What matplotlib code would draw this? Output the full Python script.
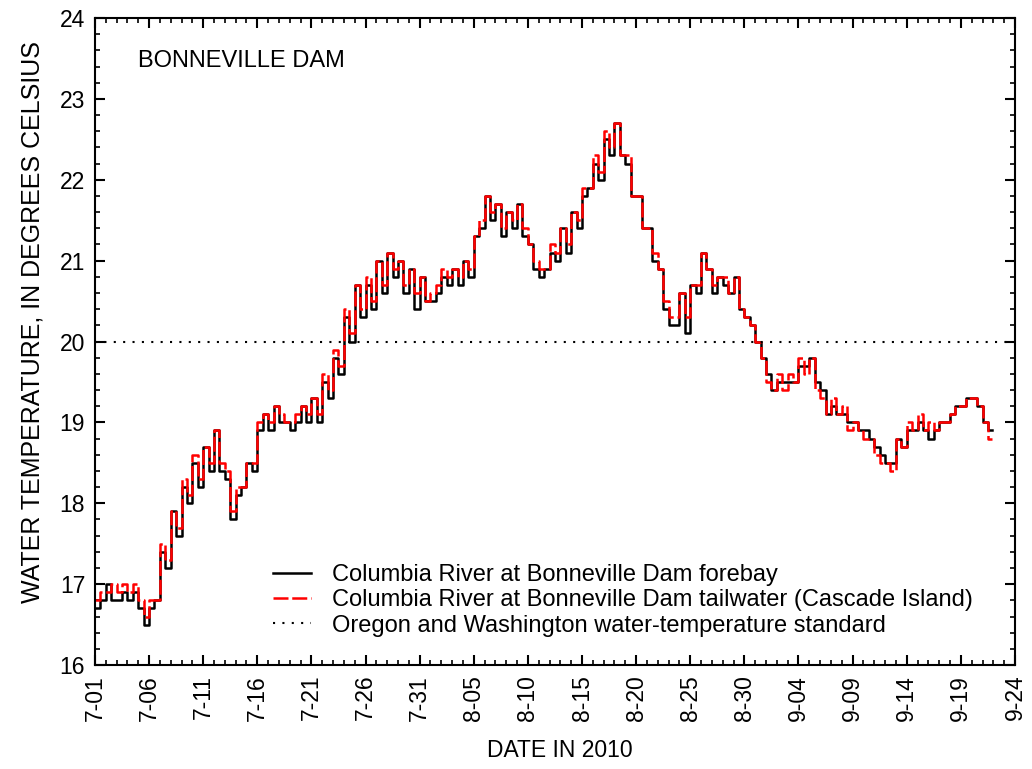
import matplotlib
matplotlib.use("Agg")
import matplotlib.pyplot as plt
from matplotlib.ticker import MultipleLocator, FixedLocator
import numpy as np

plt.rcParams['font.family'] = ['Liberation Sans', 'DejaVu Sans']

# Half-day readings, starting 7-01 00:00 (day 0), step 0.5 day
forebay = [
    16.7, 16.8,  17.0, 16.8,  16.8, 16.9,  16.8, 16.9,  16.7, 16.5,
    16.7, 16.8,  17.4, 17.2,  17.9, 17.6,  18.2, 18.0,  18.5, 18.2,
    18.7, 18.4,  18.9, 18.4,  18.3, 17.8,  18.1, 18.2,  18.5, 18.4,
    18.9, 19.1,  18.9, 19.2,  19.0, 19.0,  18.9, 19.0,  19.2, 19.0,
    19.3, 19.0,  19.5, 19.3,  19.8, 19.6,  20.3, 20.0,  20.7, 20.3,
    20.7, 20.4,  21.0, 20.6,  21.1, 20.8,  21.0, 20.6,  20.9, 20.4,
    20.8, 20.5,  20.5, 20.6,  20.8, 20.7,  20.9, 20.7,  21.0, 20.8,
    21.3, 21.4,  21.8, 21.5,  21.7, 21.3,  21.6, 21.4,  21.7, 21.3,
    21.2, 20.9,  20.8, 20.9,  21.1, 21.0,  21.4, 21.1,  21.6, 21.4,
    21.8, 21.9,  22.2, 22.0,  22.5, 22.3,  22.7, 22.3,  22.2, 21.8,
    21.8, 21.4,  21.4, 21.0,  20.9, 20.4,  20.2, 20.2,  20.6, 20.1,
    20.7, 20.6,  21.1, 20.9,  20.6, 20.8,  20.7, 20.6,  20.8, 20.4,
    20.3, 20.2,  20.0, 19.8,  19.6, 19.4,  19.5, 19.5,  19.5, 19.5,
    19.7, 19.7,  19.8, 19.5,  19.4, 19.1,  19.2, 19.1,  19.1, 19.0,
    19.0, 18.9,  18.9, 18.8,  18.7, 18.6,  18.5, 18.5,  18.8, 18.7,
    18.9, 18.9,  19.0, 18.9,  18.8, 18.9,  19.0, 19.0,  19.1, 19.2,
    19.2, 19.3,  19.3, 19.2,  19.0, 18.9,
]

tailwater = [
    16.8, 16.9,  16.9, 17.0,  16.9, 17.0,  16.9, 17.0,  16.8, 16.6,
    16.8, 16.8,  17.5, 17.3,  17.9, 17.7,  18.3, 18.1,  18.6, 18.3,
    18.7, 18.5,  18.9, 18.5,  18.4, 17.9,  18.2, 18.2,  18.5, 18.5,
    19.0, 19.1,  19.0, 19.2,  19.1, 19.0,  19.0, 19.1,  19.2, 19.1,
    19.3, 19.1,  19.6, 19.4,  19.9, 19.7,  20.4, 20.1,  20.7, 20.4,
    20.8, 20.5,  21.0, 20.7,  21.1, 20.9,  21.0, 20.7,  20.9, 20.6,
    20.8, 20.5,  20.6, 20.7,  20.9, 20.8,  20.9, 20.8,  21.0, 20.9,
    21.3, 21.5,  21.8, 21.6,  21.7, 21.4,  21.6, 21.5,  21.7, 21.4,
    21.2, 21.0,  20.9, 20.9,  21.2, 21.1,  21.4, 21.2,  21.6, 21.5,
    21.9, 21.9,  22.3, 22.1,  22.6, 22.4,  22.7, 22.3,  22.3, 21.8,
    21.8, 21.4,  21.4, 21.1,  20.9, 20.5,  20.3, 20.3,  20.6, 20.3,
    20.7, 20.7,  21.1, 20.9,  20.7, 20.8,  20.8, 20.6,  20.8, 20.4,
    20.3, 20.2,  20.0, 19.8,  19.5, 19.4,  19.6, 19.4,  19.6, 19.5,
    19.8, 19.6,  19.8, 19.4,  19.3, 19.1,  19.3, 19.1,  19.2, 18.9,
    19.0, 18.9,  18.8, 18.8,  18.6, 18.5,  18.5, 18.4,  18.8, 18.7,
    19.0, 18.9,  19.1, 18.9,  19.0, 18.9,  19.0, 19.0,  19.1, 19.2,
    19.2, 19.3,  19.3, 19.2,  19.0, 18.8,
]

standard = 20.0
tick_days = [0, 5, 10, 15, 20, 25, 30, 35, 40, 45, 50, 55, 60, 65, 70, 75, 80, 85]
tick_labels = ['7-01', '7-06', '7-11', '7-16', '7-21', '7-26', '7-31', '8-05', '8-10',
               '8-15', '8-20', '8-25', '8-30', '9-04', '9-09', '9-14', '9-19', '9-24']

t = np.arange(len(forebay)) * 0.5
t_end = np.append(t, t[-1] + 0.4)
fb = np.append(forebay, forebay[-1])
tw = np.append(tailwater, tailwater[-1])

fig = plt.figure(figsize=(10.32, 7.69), dpi=100)
ax = fig.add_axes([0.092, 0.1352, 0.8915, 0.8414])

ax.plot(t_end, fb, drawstyle='steps-post', color='black', lw=1.8,
        label='Columbia River at Bonneville Dam forebay')
ax.plot(t_end, tw, drawstyle='steps-post', color='#ff0000', lw=1.8,
        linestyle=(0, (6, 1.5)),
        label='Columbia River at Bonneville Dam tailwater (Cascade Island)')
ax.axhline(standard, color='black', lw=1.5, linestyle=(0, (1, 3.5)),
           label='Oregon and Washington water-temperature standard')

ax.set_xlim(0, 85)
ax.set_ylim(16, 24)
ax.xaxis.set_major_locator(FixedLocator(tick_days))
ax.set_xticklabels(tick_labels, rotation=90)
ax.xaxis.set_minor_locator(MultipleLocator(1))
ax.yaxis.set_major_locator(MultipleLocator(1))
ax.yaxis.set_minor_locator(MultipleLocator(0.2))

ax.tick_params(which='both', direction='in', top=True, right=True, labelsize=16.5)
ax.tick_params(which='major', length=7, width=1.5, pad=7)
ax.tick_params(which='minor', length=3.5, width=1.2)
for s in ax.spines.values():
    s.set_linewidth(1.5)

ax.set_xlabel('DATE IN 2010', fontsize=16.5)
ax.xaxis.set_label_coords(0.505, -0.115)
ax.set_ylabel('WATER TEMPERATURE, IN DEGREES CELSIUS', fontsize=18)
ax.yaxis.set_label_coords(-0.055, 0.53)

ax.text(0.047, 0.9335, 'BONNEVILLE DAM', transform=ax.transAxes, fontsize=17,
        va='center', ha='left')

leg = ax.legend(loc='lower left', bbox_to_anchor=(0.193, 0.044), frameon=False,
                fontsize=17, handlelength=1.65, handletextpad=0.85, labelspacing=0.13,
                borderaxespad=0.0, borderpad=0.0)

fig.savefig('out.png', dpi=100)
